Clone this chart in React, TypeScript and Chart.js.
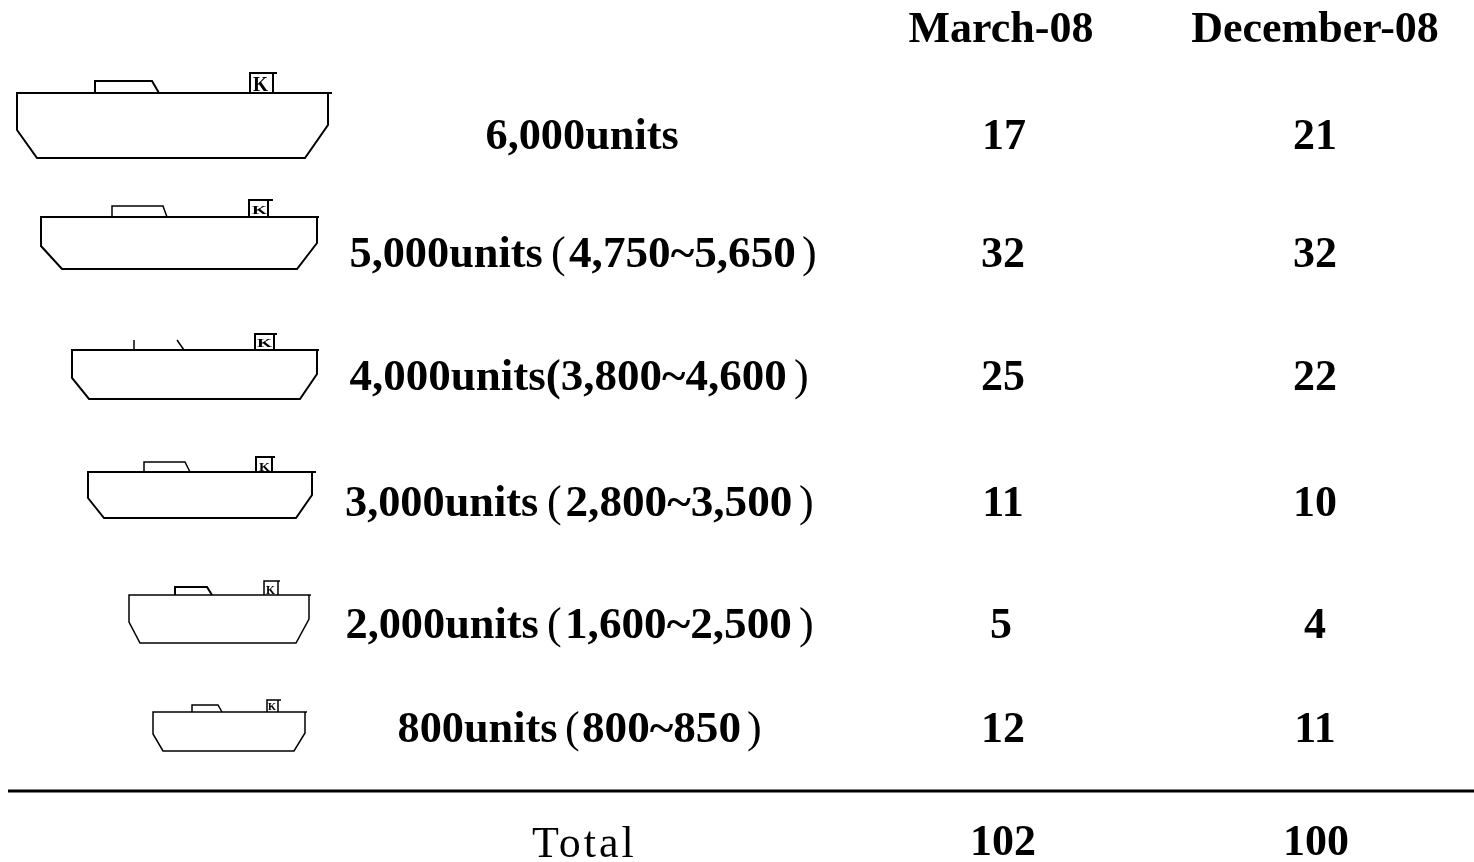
import React, { useEffect, useRef } from "react";
import { Chart, registerables } from "chart.js";

Chart.register(...registerables);

type P = [number, number];

// Table content
const columnHeaders = ["March-08", "December-08"];
const columnHeaderX = [1001, 1315];
const march = [17, 32, 25, 11, 5, 12];
const december = [21, 32, 22, 10, 4, 11];
const totals = [102, 100];
const marchX = [1004, 1003, 1003, 1003, 1001, 1003];
const decemberX = [1315, 1315, 1315, 1315, 1315, 1315];
const totalX = [1003, 1316];
const rowBaselines = [149, 267, 390, 516, 638, 742];
const totalBaseline = 855;
const headerBaseline = 42;

// Row labels: each run is [text, x, weight, size]
const rowLabels: [string, number, string, number][][] = [
  [["6,000units", 485.5, "bold", 44.3]],
  [["5,000units", 349.5, "bold", 44.3], ["(", 551, "normal", 44], ["4,750~5,650", 569, "bold", 45.2], [")", 802, "normal", 44]],
  [["4,000units(3,800~4,600", 349.5, "bold", 45], [")", 794, "normal", 44]],
  [["3,000units", 345, "bold", 44.3], ["(", 547, "normal", 44], ["2,800~3,500", 565.5, "bold", 45.2], [")", 799, "normal", 44]],
  [["2,000units", 345.5, "bold", 44.3], ["(", 547, "normal", 44], ["1,600~2,500", 565, "bold", 45.2], [")", 799, "normal", 44]],
  [["800units", 397.5, "bold", 44.3], ["(", 565, "normal", 44], ["800~850", 582, "bold", 45.2], [")", 747, "normal", 44]],
];

// Ship drawings
const hulls: P[][] = [
  [[332, 93], [17, 93], [17, 130], [37, 158], [305, 158], [328, 125], [328, 93]],
  [[319, 217], [41, 217], [41, 246], [62, 269], [297, 269], [317, 243], [317, 217]],
  [[319, 350], [72, 350], [72, 378], [89, 399], [300, 399], [317, 374], [317, 350]],
  [[316, 472], [88, 472], [88, 498], [104, 518], [296, 518], [312, 495], [312, 472]],
  [[311, 595], [129, 595], [129, 622], [140, 643], [296, 643], [309, 619], [309, 595]],
  [[307, 712], [153, 712], [153, 734], [163, 751], [294, 751], [305, 733], [305, 712]],
];
const hullWidths = [2, 2, 2, 2, 1.5, 1.5];
const houses: P[][] = [
  [[95, 93], [95, 81], [152, 81], [159, 93]],
  [[112, 217], [112, 206], [163, 206], [167, 217]],
  [[134, 350], [134, 340]],
  [[177, 340], [184, 350]],
  [[144, 472], [144, 462], [185, 462], [190, 472]],
  [[175, 595], [175, 587], [207, 587], [212, 595]],
  [[192, 712], [192, 705], [218, 705], [222, 712]],
];
const houseWidths = [2, 1.5, 1.5, 1.5, 1.5, 2, 1.5];
const kBoxes: P[][] = [
  [[273, 93], [273, 73], [277, 73], [250, 73], [250, 93]],
  [[268, 217], [268, 200], [273, 200], [249, 200], [249, 217]],
  [[274, 350], [274, 334], [277, 334], [255, 334], [255, 350]],
  [[272, 472], [272, 457], [275, 457], [256, 457], [256, 472]],
  [[278, 595], [278, 581], [280, 581], [264, 581], [264, 595]],
  [[278, 712], [278, 700], [281, 700], [267, 700], [267, 712]],
];
// The small K inside each box: centre x, baseline, width, height
const kMarks: [number, number, number, number][] = [
  [260.5, 91, 15, 14],
  [259.5, 214, 15, 9],
  [264.5, 347, 15, 8],
  [264.5, 471, 11, 9],
  [270.5, 594, 9, 9],
  [272, 710, 8, 7],
];

const dividerY = 791;
const dividerX = [8, 1474];

const totalLabel = "Total";
const totalLabelX = 532;
const totalLabelBaseline = 857;

const toPts = (a: P[]) => a.map(([x, y]) => ({ x, y }));

const SERIF = '"Liberation Serif"';

const textPlugin = {
  id: "tableText",
  afterDatasetsDraw(chart: any) {
    const { ctx, scales } = chart;
    const px = (v: number) => scales.x.getPixelForValue(v);
    const py = (v: number) => scales.y.getPixelForValue(v);
    ctx.save();
    ctx.fillStyle = "#000";
    ctx.textBaseline = "alphabetic";

    ctx.font = `bold 44px ${SERIF}`;
    ctx.textAlign = "center";
    columnHeaders.forEach((h, i) => ctx.fillText(h, px(columnHeaderX[i]), py(headerBaseline)));
    rowBaselines.forEach((y, i) => {
      ctx.fillText(String(march[i]), px(marchX[i]), py(y));
      ctx.fillText(String(december[i]), px(decemberX[i]), py(y));
    });
    totals.forEach((t, i) => ctx.fillText(String(t), px(totalX[i]), py(totalBaseline)));

    ctx.textAlign = "left";
    rowLabels.forEach((runs, i) => {
      runs.forEach(([t, x, w, s]) => {
        ctx.font = `${w} ${s}px ${SERIF}`;
        ctx.fillText(t, px(x), py(rowBaselines[i]));
      });
    });

    ctx.font = `normal 44px ${SERIF}`;
    (ctx as any).letterSpacing = "3px";
    ctx.fillText(totalLabel, px(totalLabelX), py(totalLabelBaseline));
    (ctx as any).letterSpacing = "0px";

    ctx.textAlign = "center";
    ctx.font = `bold 100px ${SERIF}`;
    kMarks.forEach(([x, y, w, h]) => {
      ctx.save();
      ctx.translate(px(x), py(y));
      ctx.scale(w / 77.8, h / 67.6);
      ctx.fillText("K", 0, 0);
      ctx.restore();
    });
    ctx.restore();
  },
};

export default function App() {
  const ref = useRef<HTMLCanvasElement>(null);
  useEffect(() => {
    if (!ref.current) return;
    const line = (data: P[], w: number) => ({
      type: "line" as const,
      data: toPts(data),
      borderColor: "#000",
      borderWidth: w,
      pointRadius: 0,
      fill: false,
      tension: 0,
    });
    const chart = new Chart(ref.current, {
      type: "scatter",
      data: {
        datasets: [
          ...hulls.map((h, i) => line(h, hullWidths[i])),
          ...houses.map((h, i) => line(h, houseWidths[i])),
          ...kBoxes.map((h, i) => line(h, hullWidths[i])),
          line([[dividerX[0], dividerY], [dividerX[1], dividerY]], 3),
        ] as any,
      },
      options: {
        responsive: false,
        animation: false,
        layout: { padding: 0 },
        plugins: { legend: { display: false }, tooltip: { enabled: false } },
        scales: {
          x: { type: "linear", display: false, min: 0, max: 1474 },
          y: { type: "linear", display: false, min: 0, max: 862, reverse: true },
        },
      },
      plugins: [textPlugin],
    });
    return () => chart.destroy();
  }, []);
  return (
    <canvas
      ref={ref}
      width={1474}
      height={862}
      style={{ position: "fixed", left: 0, top: 0, width: 1474, height: 862, display: "block" }}
    />
  );
}
